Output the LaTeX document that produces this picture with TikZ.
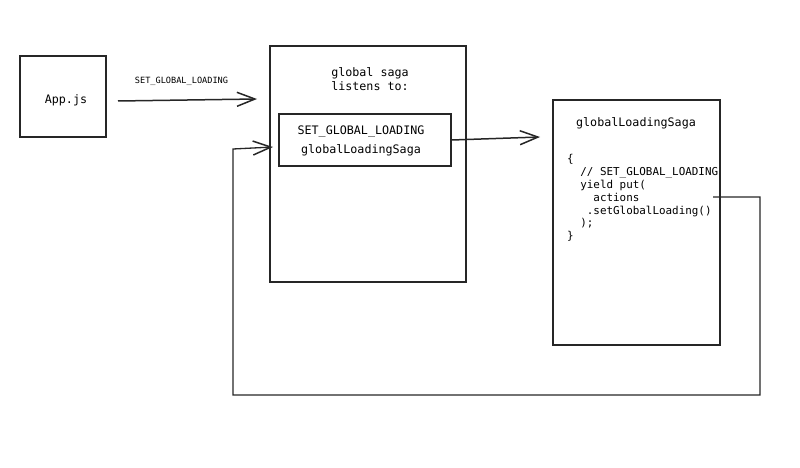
\documentclass[tikz,border=0pt]{standalone}
\usepackage{fontspec}
\setmonofont{DejaVu Sans Mono}
\usetikzlibrary{arrows.meta,positioning}

\begin{document}
\begin{tikzpicture}[
      x=1pt,y=-1pt,
      box/.style={draw=black!85,line width=1.5pt,inner sep=0pt},
      txt/.style={font=\ttfamily\fontsize{11.7}{14}\selectfont,inner sep=0pt,align=center},
      code/.style={font=\ttfamily\fontsize{10.9}{12.9}\selectfont,inner sep=0pt,align=left},
      small/.style={font=\ttfamily\fontsize{8.6}{10}\selectfont,inner sep=0pt},
      arr/.style={-{Straight Barb[length=18pt,width=14pt,line width=1.5pt]},draw=black!85,line width=1.5pt},
      link/.style={draw=black!85,line width=1.3pt}
    ]
    \useasboundingbox (0,0) rectangle (800,468);
    % left box
    \node[box,minimum width=86pt,minimum height=81pt] (app) at (63,96.5) {};
    \node[txt] (apptxt) at (66,100) {App.js};
    % middle box
    \node[box,minimum width=196pt,minimum height=236pt] (saga) at (368,164) {};
    \node[txt] (sagatitle) at (370,79) {global saga\\listens to:};
    \node[box,minimum width=172pt,minimum height=52pt] (listen) at (365,140) {};
    \node[txt,font=\ttfamily\fontsize{11.7}{19}\selectfont] (listentxt) at (361,141) {SET\_GLOBAL\_LOADING\\globalLoadingSaga};
    % right box
    \node[box,minimum width=167pt,minimum height=245pt] (loading) at (636.5,222.5) {};
    \node[txt] (loadtitle) at (636,123) {globalLoadingSaga};
    \node[code,anchor=north west] (body) at (567,154) {\{\\
      \ \ // SET\_GLOBAL\_LOADING\\
      \ \ yield put(\\
      \ \ \ \ actions\\
      \ \ \ .setGlobalLoading()\\
      \ \ );\\
      \}};
    % connectors
    \coordinate (appout) at (118,101);
    \coordinate (sagain) at (257,99);
    \draw[arr] (appout) -- node[small,above=14pt,xshift=-6pt] (action) {SET\_GLOBAL\_LOADING} (sagain);
    \coordinate (loadin) at (540,137);
    \draw[arr] (listen.east) -- (loadin);
    \coordinate (yieldout) at (713,197);
    \coordinate (listenin) at (273,147);
    \draw[link,-{Straight Barb[length=18pt,width=14pt,line width=1.5pt]}] (yieldout) -- (760,197) -- (760,395) -- (233,395) -- (233,149) -- (listenin);
  \end{tikzpicture}
\end{document}
